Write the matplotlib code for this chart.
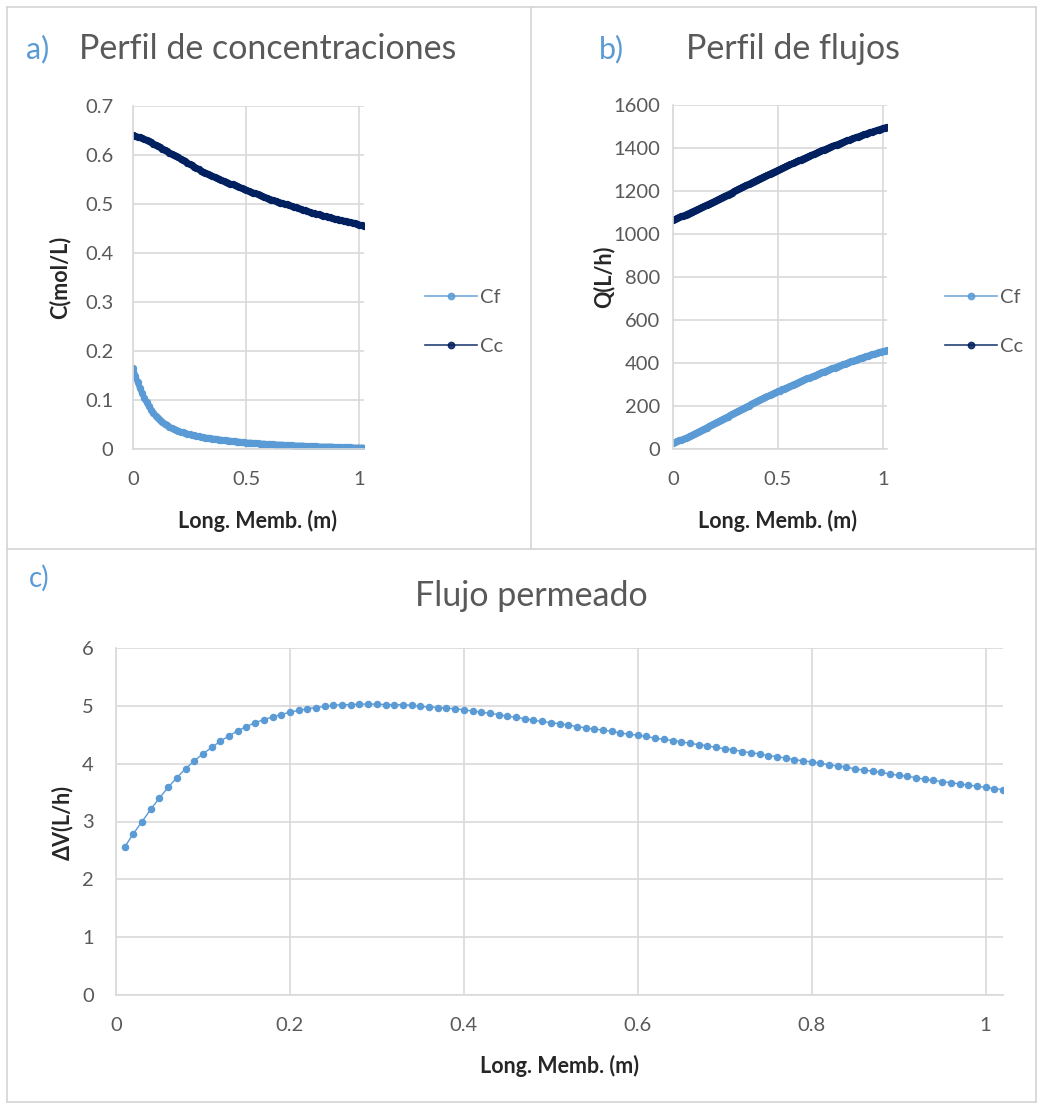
import numpy as np
import matplotlib
matplotlib.use("Agg")
import matplotlib.pyplot as plt
from matplotlib.lines import Line2D

plt.rcParams['font.family'] = ['Lato', 'DejaVu Sans']

# membrane length (m), 0.01 m segments
long_memb = np.round(np.arange(0, 103) * 0.01, 2)

# permeate / concentrate concentration (mol/L)
cf = [0.165, 0.150, 0.137, 0.125, 0.114, 0.104, 0.095, 0.087, 0.080, 0.074,
      0.068, 0.063, 0.059, 0.055, 0.051, 0.048, 0.045, 0.043, 0.041, 0.039,
      0.037, 0.035, 0.034, 0.032, 0.031, 0.030, 0.029, 0.028, 0.027, 0.026,
      0.025, 0.024, 0.023, 0.023, 0.022, 0.021, 0.021, 0.020, 0.019, 0.019,
      0.018, 0.018, 0.017, 0.017, 0.016, 0.016, 0.015, 0.015, 0.014, 0.014,
      0.013, 0.013, 0.013, 0.012, 0.012, 0.012, 0.011, 0.011, 0.011, 0.010,
      0.010, 0.010, 0.010, 0.009, 0.009, 0.009, 0.009, 0.008, 0.008, 0.008,
      0.008, 0.007, 0.007, 0.007, 0.007, 0.007, 0.006, 0.006, 0.006, 0.006,
      0.006, 0.006, 0.005, 0.005, 0.005, 0.005, 0.005, 0.005, 0.005, 0.004,
      0.004, 0.004, 0.004, 0.004, 0.004, 0.004, 0.004, 0.003, 0.003, 0.003,
      0.003, 0.003, 0.003]
cc = [0.641, 0.639, 0.637, 0.636, 0.634, 0.632, 0.630, 0.628, 0.626, 0.623,
      0.621, 0.618, 0.616, 0.613, 0.611, 0.608, 0.605, 0.603, 0.600, 0.598,
      0.595, 0.592, 0.590, 0.587, 0.584, 0.581, 0.579, 0.576, 0.573, 0.571,
      0.568, 0.566, 0.564, 0.562, 0.559, 0.557, 0.555, 0.553, 0.551, 0.549,
      0.547, 0.545, 0.543, 0.541, 0.540, 0.538, 0.536, 0.534, 0.532, 0.531,
      0.529, 0.527, 0.525, 0.523, 0.522, 0.520, 0.518, 0.516, 0.514, 0.513,
      0.511, 0.509, 0.508, 0.506, 0.505, 0.503, 0.502, 0.500, 0.499, 0.497,
      0.496, 0.494, 0.493, 0.491, 0.490, 0.488, 0.487, 0.485, 0.484, 0.482,
      0.481, 0.480, 0.479, 0.477, 0.476, 0.475, 0.474, 0.473, 0.471, 0.470,
      0.469, 0.468, 0.467, 0.466, 0.465, 0.464, 0.463, 0.462, 0.461, 0.459,
      0.458, 0.457, 0.455]

# permeate / concentrate flow (L/h)
qf = [30, 33, 36, 40, 43, 47, 51, 55, 60, 65,
      70, 75, 80, 85, 90, 95, 100, 105, 110, 115,
      120, 125, 130, 135, 141, 146, 151, 156, 161, 167,
      172, 177, 182, 187, 192, 197, 202, 207, 212, 217,
      222, 227, 231, 236, 241, 245, 250, 254, 259, 263,
      268, 272, 277, 281, 285, 290, 294, 299, 303, 307,
      312, 316, 320, 324, 328, 332, 336, 340, 344, 348,
      352, 356, 360, 364, 367, 371, 375, 379, 383, 386,
      390, 394, 397, 401, 404, 408, 411, 414, 418, 421,
      425, 428, 431, 434, 437, 440, 443, 446, 449, 452,
      455, 457, 460]
qc = [1065, 1069, 1073, 1077, 1082, 1086, 1090, 1095, 1099, 1104,
      1108, 1113, 1117, 1122, 1126, 1131, 1136, 1140, 1145, 1149,
      1154, 1159, 1164, 1169, 1174, 1179, 1183, 1188, 1193, 1198,
      1203, 1208, 1213, 1218, 1223, 1228, 1232, 1237, 1242, 1247,
      1252, 1257, 1261, 1266, 1270, 1275, 1280, 1284, 1289, 1293,
      1298, 1302, 1307, 1311, 1316, 1320, 1324, 1329, 1333, 1338,
      1342, 1346, 1351, 1355, 1359, 1364, 1368, 1372, 1376, 1381,
      1385, 1389, 1393, 1397, 1401, 1405, 1409, 1413, 1416, 1420,
      1424, 1428, 1431, 1435, 1438, 1442, 1446, 1449, 1453, 1456,
      1460, 1463, 1466, 1470, 1473, 1476, 1479, 1482, 1486, 1489,
      1492, 1495, 1498]

# permeate flow per segment (L/h)
long_dv = long_memb[1:]
dv = [2.56, 2.79, 3.00, 3.21, 3.41, 3.59, 3.76, 3.91, 4.05, 4.17,
      4.28, 4.39, 4.48, 4.57, 4.64, 4.71, 4.76, 4.81, 4.85, 4.89,
      4.92, 4.95, 4.97, 4.99, 5.01, 5.02, 5.02, 5.03, 5.03, 5.03,
      5.02, 5.02, 5.02, 5.01, 4.99, 4.98, 4.97, 4.96, 4.95, 4.93,
      4.91, 4.89, 4.87, 4.85, 4.82, 4.80, 4.78, 4.75, 4.73, 4.71,
      4.69, 4.67, 4.64, 4.62, 4.60, 4.58, 4.56, 4.53, 4.51, 4.49,
      4.47, 4.44, 4.42, 4.40, 4.38, 4.35, 4.33, 4.31, 4.28, 4.26,
      4.24, 4.21, 4.19, 4.17, 4.14, 4.12, 4.10, 4.07, 4.05, 4.03,
      4.01, 3.98, 3.96, 3.94, 3.91, 3.89, 3.87, 3.85, 3.82, 3.80,
      3.78, 3.76, 3.73, 3.71, 3.69, 3.67, 3.65, 3.63, 3.61, 3.59,
      3.57, 3.55]

W, H = 1039, 1105
BLUE = '#5B9BD5'
NAVY = '#002060'
GREY = '#595959'
GRID = '#D9D9D9'
LABEL = '#262626'

fig = plt.figure(figsize=(W / 100, H / 100), dpi=100)


def fx(x):
    return x / W


def fy(y):
    return 1 - y / H


def new_ax(l, t, r, b):
    ax = fig.add_axes([fx(l), fy(b), fx(r - l), (b - t) / H])
    for s in ['top', 'right']:
        ax.spines[s].set_visible(False)
    for s in ['left', 'bottom']:
        ax.spines[s].set_color(GRID)
        ax.spines[s].set_linewidth(1.2)
    ax.grid(True, color=GRID, linewidth=1.2)
    ax.set_axisbelow(True)
    ax.tick_params(length=0, labelsize=14.5, colors=GREY)
    return ax


def fmt(v):
    return ('%g' % v)


def series(ax, x, y, color, label):
    # thick line with dense markers on top (one marker per segment)
    ax.plot(x, y, color=color, lw=4.3, marker='o', ms=4.3,
            solid_capstyle='round', solid_joinstyle='round')
    ax.plot([], [], color=color, lw=1.2, marker='o', ms=4.6,
            alpha=0.85, label=label)


# panel borders
border = dict(color='#D4D4D4', linewidth=1.2, transform=fig.transFigure)
fig.add_artist(Line2D([fx(7), fx(1036)], [fy(7), fy(7)], **border))
fig.add_artist(Line2D([fx(7), fx(1036)], [fy(1102), fy(1102)], **border))
fig.add_artist(Line2D([fx(7), fx(7)], [fy(7), fy(1102)], **border))
fig.add_artist(Line2D([fx(1036), fx(1036)], [fy(7), fy(1102)], **border))
fig.add_artist(Line2D([fx(531), fx(531)], [fy(7), fy(549)], **border))
fig.add_artist(Line2D([fx(7), fx(1036)], [fy(549), fy(549)], **border))

legend_kw = dict(bbox_transform=fig.transFigure, frameon=False, fontsize=14.5,
                 handlelength=2.6, handletextpad=0.15, labelspacing=1.55,
                 borderpad=0, borderaxespad=0, labelcolor=GREY,
                 loc='center left')

# a) concentration profile
ax1 = new_ax(133, 106, 364, 449)
series(ax1, long_memb, cf, BLUE, 'Cf')
series(ax1, long_memb, cc, NAVY, 'Cc')
ax1.set_xlim(0, 1.02)
ax1.set_ylim(0, 0.7)
ax1.set_xticks([0, 0.5, 1])
ax1.set_yticks(np.arange(0, 0.71, 0.1))
ax1.set_xticklabels([fmt(v) for v in [0, 0.5, 1]])
ax1.set_yticklabels([fmt(round(v, 1)) for v in np.arange(0, 0.71, 0.1)])
ax1.tick_params(axis='x', pad=16)
ax1.tick_params(axis='y', pad=14)
ax1.legend(bbox_to_anchor=(fx(425), fy(322)), **legend_kw)

fig.text(fx(26), fy(49), 'a)', color=BLUE, fontsize=22, va='center')
fig.text(fx(79), fy(49), 'Perfil de concentraciones', color=GREY,
         fontsize=24.5, va='center')
fig.text(fx(60), fy(277), 'C(mol/L)', rotation=90, fontsize=15.5,
         fontweight='bold', color=LABEL, ha='center', va='center')
fig.text(fx(258), fy(521), 'Long. Memb. (m)', fontsize=15.5,
         fontweight='bold', color=LABEL, ha='center', va='center')

# b) flow profile
ax2 = new_ax(673, 105, 887, 449)
series(ax2, long_memb, qf, BLUE, 'Cf')
series(ax2, long_memb, qc, NAVY, 'Cc')
ax2.set_xlim(0, 1.02)
ax2.set_ylim(0, 1600)
ax2.set_xticks([0, 0.5, 1])
ax2.set_yticks(np.arange(0, 1601, 200))
ax2.set_xticklabels([fmt(v) for v in [0, 0.5, 1]])
ax2.tick_params(axis='x', pad=16)
ax2.tick_params(axis='y', pad=9)
ax2.legend(bbox_to_anchor=(fx(945), fy(322)), **legend_kw)

fig.text(fx(599), fy(49), 'b)', color=BLUE, fontsize=22, va='center')
fig.text(fx(686), fy(49), 'Perfil de flujos', color=GREY,
         fontsize=24.5, va='center')
fig.text(fx(604), fy(277), 'Q(L/h)', rotation=90, fontsize=15.5,
         fontweight='bold', color=LABEL, ha='center', va='center')
fig.text(fx(777), fy(521), 'Long. Memb. (m)', fontsize=15.5,
         fontweight='bold', color=LABEL, ha='center', va='center')

# c) permeate flow
ax3 = new_ax(116, 648, 1003, 995)
ax3.plot(long_dv, dv, color=BLUE, lw=1.0, marker='o', ms=4.4)
ax3.set_xlim(0, 1.02)
ax3.set_ylim(0, 6)
ax3.set_xticks(np.arange(0, 1.01, 0.2))
ax3.set_yticks(np.arange(0, 7, 1))
ax3.set_xticklabels([fmt(round(v, 1)) for v in np.arange(0, 1.01, 0.2)])
ax3.tick_params(axis='x', pad=16)
ax3.tick_params(axis='y', pad=16)

fig.text(fx(29), fy(578), 'c)', color=BLUE, fontsize=20, va='center')
fig.text(fx(531), fy(596), 'Flujo permeado', color=GREY, fontsize=24.5,
         ha='center', va='center')
fig.text(fx(62), fy(822), 'ΔV(L/h)', rotation=90, fontsize=15.5,
         fontweight='bold', color=LABEL, ha='center', va='center')
fig.text(fx(559), fy(1066), 'Long. Memb. (m)', fontsize=15.5,
         fontweight='bold', color=LABEL, ha='center', va='center')

fig.savefig('out.png', dpi=100, facecolor='white')
